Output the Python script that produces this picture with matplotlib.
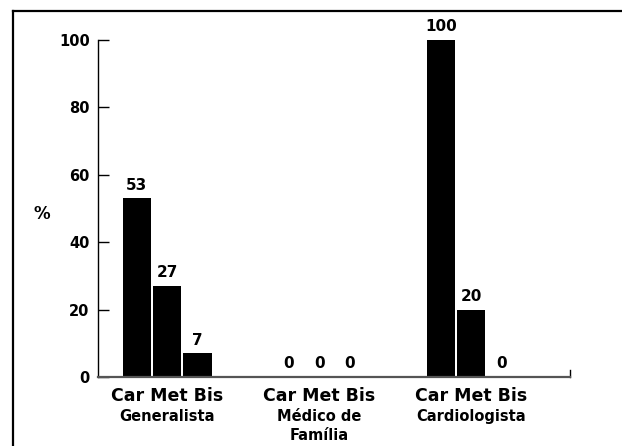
import matplotlib.pyplot as plt
from matplotlib.lines import Line2D
import numpy as np

plt.rcParams['font.family'] = ['DejaVu Sans']
plt.rcParams['font.weight'] = 'bold'

groups = ['Generalista', 'Médico de\nFamília', 'Cardiologista']
series = ['Car', 'Met', 'Bis']
car = [53, 0, 100]
met = [27, 0, 20]
bis = [7, 0, 0]
yticks = [0, 20, 40, 60, 80, 100]

fig = plt.figure(figsize=(6.22, 4.46), dpi=100)
ax = fig.add_axes([98 / 622, 69 / 446, 472 / 622, 337 / 446])

x = np.arange(len(groups))
offsets = [-0.2, 0.0, 0.2]
for vals, off in zip([car, met, bis], offsets):
    bars = ax.bar(x + off, vals, width=0.185, color='black')
    for b, v in zip(bars, vals):
        ax.annotate(str(v), (b.get_x() + b.get_width() / 2, v),
                    xytext=(0, 4), textcoords='offset points',
                    ha='center', va='bottom', fontsize=11, fontweight='bold')

ax.set_xlim(-0.454, 2.65)
ax.set_ylim(0, 100)
ax.set_yticks(yticks)
ax.tick_params(axis='y', direction='in', length=8, width=1, labelsize=10.5, pad=6)
ax.set_xticks(x)
ax.set_xticklabels([' '.join(series)] * len(groups), fontsize=12.5, fontweight='bold')
ax.tick_params(axis='x', length=0, pad=7)

for xi, g in zip(x, groups):
    ax.text(xi, -0.095, g, transform=ax.get_xaxis_transform(), ha='center', va='top',
            fontsize=10.5, fontweight='bold', linespacing=1.35)

ax.spines['top'].set_visible(False)
ax.spines['right'].set_visible(False)
ax.spines['left'].set_linewidth(1)
ax.spines['bottom'].set_linewidth(1.6)
ax.spines['bottom'].set_color('#555555')
ax.plot([2.65, 2.65], [0, 2], color='black', lw=1, clip_on=False)

ax.text(-0.119, 0.484, '%', transform=ax.transAxes, ha='center', va='center',
        fontsize=12, fontweight='bold')

# outer frame (left and top only, rest cut off)
fx = 13 / 622
fy = 1 - 11 / 446
fig.add_artist(Line2D([fx, fx], [0, fy], color='black', lw=1.6, transform=fig.transFigure))
fig.add_artist(Line2D([fx, 1], [fy, fy], color='black', lw=1.6, transform=fig.transFigure))

fig.savefig('out.png', dpi=100)
